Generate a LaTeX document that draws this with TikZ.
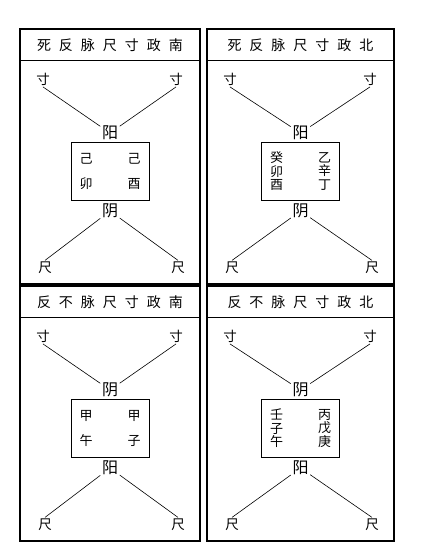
\documentclass[tikz,border=0pt]{standalone}
\usepackage{fontspec}
\newfontfamily\cjk{Noto Sans CJK SC}
\usetikzlibrary{calc}

\newcommand{\tgap}{\hspace{8pt}}

\tikzset{
  panel/.style = {draw, line width = 1.1pt},
  bar/.style = {line width = .9pt},
  link/.style = {line width = .6pt},
  heading/.style = {font = \cjk\fontsize{14}{14}\selectfont, inner sep = 1pt},
  word/.style = {font = \cjk\fontsize{13.5}{13.5}\selectfont, inner sep = 1.5pt},
  hub/.style = {font = \cjk\fontsize{16}{16}\selectfont, inner sep = 1.5pt},
  stem/.style = {font = \cjk\fontsize{13}{13.5}\selectfont, align = center,
    inner sep = 0pt},
  gua/.style = {draw, line width = .8pt, minimum width = 78, minimum height = 58}
}

\begin{document}
\begin{tikzpicture}[x = 1pt, y = -1pt]
  \useasboundingbox (0, 0) rectangle (423, 555);

  \foreach \p/\x/\y/\w/\ttl/\hi/\lo/\lcol/\rcol in {
    a/20/29/180/{死\tgap 反\tgap 脉\tgap 尺\tgap 寸\tgap 政\tgap 南}/阳/阴/{己\\[12pt]卯}/{己\\[12pt]酉},
    b/207/29/187/{死\tgap 反\tgap 脉\tgap 尺\tgap 寸\tgap 政\tgap 北}/阳/阴/{癸\\卯\\酉}/{乙\\辛\\丁},
    c/20/286/180/{反\tgap 不\tgap 脉\tgap 尺\tgap 寸\tgap 政\tgap 南}/阴/阳/{甲\\[12pt]午}/{甲\\[12pt]子},
    d/207/286/187/{反\tgap 不\tgap 脉\tgap 尺\tgap 寸\tgap 政\tgap 北}/阴/阳/{壬\\子\\午}/{丙\\戊\\庚}} {
    \begin{scope}[shift = {(\x, \y)}]
      \draw[panel] (0, 0) rectangle (\w, 255);
      \draw[bar] (0, 31) -- (\w, 31);
      \node[heading] (\p-head) at (\w / 2, 16) {\ttl};

      \node[word] (\p-cl) at (23, 50) {寸};
      \node[word] (\p-cr) at (\w - 24, 50) {寸};
      \node[hub] (\p-hi) at (\w / 2, 104) {\hi};
      \node[gua] (\p-box) at (\w / 2, 142.5) {};
      \node[stem] (\p-l) at ($(\p-box) + (-24, 0)$) {\lcol};
      \node[stem] (\p-r) at ($(\p-box) + (24, 0)$) {\rcol};
      \node[hub] (\p-lo) at (\w / 2, 182) {\lo};
      \node[word] (\p-rl) at (25, 239) {尺};
      \node[word] (\p-rr) at (\w - 22, 239) {尺};

      \draw[link] (\p-cl.south) -- (\p-hi);
      \draw[link] (\p-cr.south) -- (\p-hi);
      \draw[link] (\p-lo) -- (\p-rl.north);
      \draw[link] (\p-lo) -- (\p-rr.north);
    \end{scope}
  }
\end{tikzpicture}
\end{document}
